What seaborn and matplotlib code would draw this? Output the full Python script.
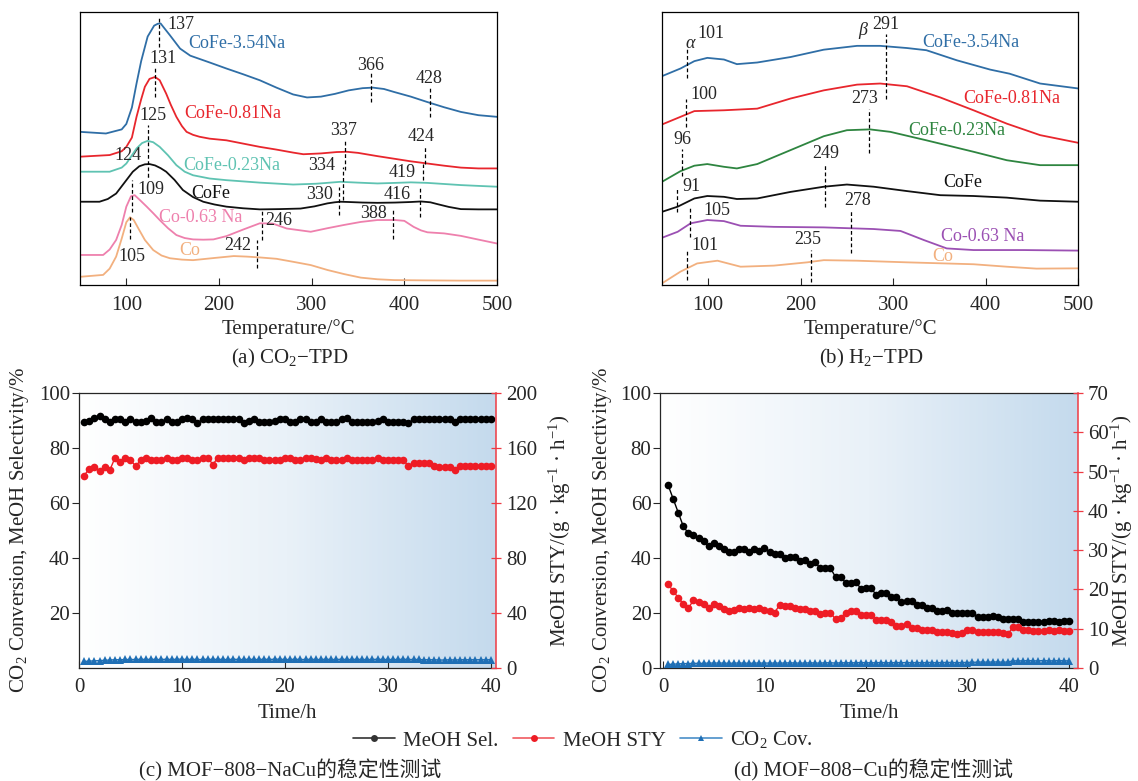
import numpy as np
import matplotlib
matplotlib.use("Agg")
import matplotlib.pyplot as plt
from matplotlib.colors import LinearSegmentedColormap
from matplotlib.lines import Line2D
import seaborn as sns

# ---------------- (a) CO2-TPD curves (T in degC, offset signal 0-100) ----------------
a_354_t = [50, 78, 95, 100, 106, 111, 116, 123, 130, 134, 137, 140, 147, 158, 169, 190, 208, 226, 244, 262,
           280, 295, 310, 325, 340, 355, 366, 378, 389, 407, 425, 443, 461, 480, 500]
a_354_y = [56.1, 55.5, 57, 59, 65, 73.8, 82, 91, 95, 95.7, 95.8, 94.5, 91.5, 86.6, 84, 81.5, 79.3, 77.2, 75, 72.3,
           69.8, 68.7, 69, 70, 71.3, 72.1, 72.3, 71.8, 70.7, 69, 67, 65.1, 63.4, 62.2, 61.6]
a_081_t = [50, 82, 95, 100, 106, 111, 116, 120, 125, 131, 136, 143, 148, 154, 160, 165, 172, 179, 190, 208,
           226, 244, 262, 280, 291, 310, 327, 338, 350, 371, 390, 407, 425, 443, 461, 480, 500]
a_081_y = [47, 47.6, 49, 50.6, 54, 61.6, 68, 72.6, 75.5, 76.2, 75, 70.1, 66, 61.6, 58.2, 56.1, 55, 54.3, 53.6, 53,
           51.8, 50.6, 49.6, 48.5, 47.9, 48.2, 48.7, 48.8, 48.4, 47.2, 46.2, 45.3, 44.5, 43.7, 43, 42.7, 42.7]
a_023_t = [50, 82, 95, 100, 106, 111, 117, 123, 129, 136, 145, 154, 163, 172, 190, 208, 244, 280, 305, 331,
           350, 371, 390, 407, 425, 443, 461, 480, 500]
a_023_y = [41.5, 41.5, 43, 44.5, 47.5, 50, 52, 52.8, 52.3, 50.6, 47.5, 43.9, 41.5, 40.2, 39, 38.4, 37.5, 36.8, 37.1, 37.8,
           37.5, 37.2, 37.4, 37.6, 37.4, 37, 36.6, 36.3, 36]
a_cofe_t = [50, 71, 80, 89, 98, 107, 114, 120, 125, 131, 137, 143, 152, 161, 172, 183, 195, 208, 226, 244,
            265, 288, 303, 317, 325, 331, 340, 355, 371, 390, 407, 418, 428, 436, 448, 461, 480, 500]
a_cofe_y = [30.5, 30.5, 31.5, 33.5, 37.5, 41.5, 43.5, 44.2, 44.3, 43.8, 42.8, 41.5, 38.5, 34.8, 32.2, 30.5, 29.5, 28.7, 28.1, 27.7,
            27.8, 28, 28.8, 29.9, 30.3, 30.5, 30.4, 30.2, 30.1, 30.2, 30.4, 30.6, 30.3, 29.6, 28.6, 27.8, 27.7, 27.7]
a_co063_t = [50, 75, 82, 89, 95, 100, 105, 109, 115, 122, 129, 136, 145, 154, 163, 172, 183, 194, 208, 226,
             244, 258, 273, 299, 317, 335, 353, 371, 390, 400, 410, 418, 425, 443, 461, 479, 500]
a_co063_y = [11, 11, 13, 16.5, 22, 28.7, 32.5, 32.9, 31, 28.7, 26.3, 23.8, 20.8, 18.3, 17.2, 16.7, 16.6, 16.7, 17.9, 20.3,
             22.6, 22.5, 20.7, 19.5, 20.8, 22, 23.1, 23.8, 23.8, 23.5, 21.3, 20, 19.3, 18.9, 18, 16.7, 15.2]
a_co_t = [50, 75, 82, 89, 95, 100, 104, 108, 114, 120, 129, 138, 147, 160, 172, 195, 216, 230, 244, 262,
          280, 299, 317, 335, 353, 371, 389, 420, 460, 500]
a_co_y = [3, 3.7, 6, 10.4, 17, 23, 24.8, 23.8, 20.1, 16.5, 12.8, 10.8, 9.8, 9.3, 9.1, 9.9, 10.6, 10.4, 10.1, 9.6,
          8.5, 7.3, 5.5, 4, 2.7, 2.1, 1.8, 1.7, 1.6, 1.6]

# ---------------- (b) H2-TPD curves ----------------
b_354_t = [50, 70, 85, 99, 117, 131, 153, 189, 225, 261, 286, 315, 336, 369, 405, 426, 459, 500]
b_354_y = [76.5, 79.3, 82, 83.2, 82.6, 80.9, 81.5, 83.5, 86.2, 87.6, 87.6, 86.8, 86, 82.3, 78.9, 77.4, 73.8, 72]
b_081_t = [50, 70, 85, 117, 153, 189, 225, 261, 286, 315, 351, 387, 423, 459, 500]
b_081_y = [58.8, 61.6, 63.7, 64, 64.6, 68.3, 71.3, 73.4, 73.8, 72.8, 68.7, 64, 59.1, 54.9, 52.1]
b_023_t = [50, 70, 85, 99, 117, 131, 153, 189, 225, 250, 275, 297, 336, 387, 423, 459, 500]
b_023_y = [37.8, 41.7, 43.7, 44.3, 43.3, 42.7, 44.3, 49.4, 54.5, 56.7, 57, 56.1, 53, 48.8, 45.7, 43.9, 43.9]
b_cofe_t = [50, 67, 85, 99, 117, 131, 153, 189, 225, 250, 279, 315, 351, 387, 423, 459, 500]
b_cofe_y = [26.8, 28.7, 31.7, 32.6, 32.3, 31.5, 31.7, 34.1, 36, 36.8, 36, 34.4, 32.9, 32.6, 32, 30.9, 30.5]
b_co063_t = [50, 67, 81, 99, 117, 135, 171, 225, 279, 308, 333, 358, 387, 441, 500]
b_co063_y = [17.3, 19.5, 22.6, 23.8, 23.4, 21.7, 21.3, 21.1, 20.5, 19.8, 16.5, 13.4, 12.8, 12.8, 12.6]
b_co_t = [50, 70, 88, 110, 135, 171, 207, 225, 261, 315, 387, 423, 455, 500]
b_co_y = [0.6, 4.9, 7.9, 8.9, 6.7, 7.1, 8.3, 9.1, 8.9, 8.3, 7.6, 6.7, 6, 6.1]

curve_names = ["CoFe-3.54Na", "CoFe-0.81Na", "CoFe-0.23Na", "CoFe", "Co-0.63 Na", "Co"]

# peak annotations: label, line x, line y0, line y1, text x, text y, align
a_marks = [("137", 135, 87, 98, 144, 95.5, "left"), ("131", 131, 69, 80, 140, 83, "center"),
           ("125", 123.5, 39.6, 58.5, 129, 62.2, "center"), ("124", 123.5, 39.6, 40, 102, 47.6, "center"),
           ("109", 106.5, 26.8, 38.4, 126, 34.8, "center"), ("105", 104.3, 17, 25, 105.5, 10.4, "center"),
           ("366", 364, 67, 78, 363.5, 80.5, "center"), ("428", 427.4, 61.6, 72.3, 426.7, 75.6, "center"),
           ("337", 336.5, 42, 53.3, 334, 56.7, "center"), ("424", 422.4, 44.5, 50.6, 418.4, 54.3, "center"),
           ("334", 334, 31.1, 43.3, 311, 43.7, "center"), ("419", 420.5, 38.4, 44.5, 397.8, 41.2, "center"),
           ("330", 329.6, 25.6, 36, 308.7, 33, "center"), ("416", 416.6, 25, 35.4, 392.4, 33.2, "center"),
           ("388", 388, 16.7, 27.4, 367, 26.2, "center"), ("246", 246, 16.5, 27.4, 264, 23.8, "center"),
           ("242", 241.5, 6.1, 16.5, 220, 14.4, "center")]
b_marks = [("101", 77.3, 76, 86.6, 103, 92, "center"), ("291", 292, 68, 92, 292, 95.5, "center"),
           ("100", 75.5, 58, 68, 95, 69.9, "center"), ("273", 274, 48.2, 64.6, 269, 68.3, "center"),
           ("96", 72, 39.9, 50, 72, 53.3, "center"), ("249", 226, 28.4, 44.5, 226.6, 48.2, "center"),
           ("91", 66.5, 26.8, 35.4, 82, 36, "center"), ("105", 80.2, 17.7, 28.7, 109, 27.4, "center"),
           ("278", 254, 11.6, 27.4, 261.5, 31.1, "center"), ("101", 77.3, 1.8, 12.6, 97, 14.6, "center"),
           ("235", 211.5, 1.2, 12.8, 208, 16.5, "center")]
a_name_pos = [(167, 88.4), (162, 62.8), (161, 43.9), (170, 33.5), (135, 24.8), (157, 12.6)]
b_name_pos = [(331, 89), (376, 68.3), (316.5, 56.7), (354, 37.4), (352, 17.7), (342, 10.4)]

# ---------------- (c)/(d) stability tests ----------------
hours = [0.5, 1.0, 1.5, 2.0, 2.5, 3.0, 3.5, 4.0, 4.5, 5.0, 5.5, 6.0, 6.5, 7.0, 7.5, 8.0, 8.5, 9.0, 9.5, 10.0,
         10.5, 11.0, 11.5, 12.0, 12.5, 13.0, 13.5, 14.0, 14.5, 15.0, 15.5, 16.0, 16.5, 17.0, 17.5, 18.0, 18.5, 19.0, 19.5, 20.0,
         20.5, 21.0, 21.5, 22.0, 22.5, 23.0, 23.5, 24.0, 24.5, 25.0, 25.5, 26.0, 26.5, 27.0, 27.5, 28.0, 28.5, 29.0, 29.5, 30.0,
         30.5, 31.0, 31.5, 32.0, 32.5, 33.0, 33.5, 34.0, 34.5, 35.0, 35.5, 36.0, 36.5, 37.0, 37.5, 38.0, 38.5, 39.0, 39.5, 40.0]

c_sel = [89.5, 90.0, 91.0, 91.5, 90.5, 89.5, 90.5, 90.5, 89.5, 90.5, 89.5, 89.5, 90.0, 91.0, 89.5, 89.5, 90.5, 89.5, 89.5, 90.5,
         91.0, 90.5, 89.0, 90.5, 90.5, 90.5, 90.5, 90.5, 90.5, 90.5, 90.5, 89.0, 90.0, 90.5, 89.5, 89.5, 89.5, 90.0, 90.5, 90.5,
         89.5, 89.5, 90.5, 90.5, 89.5, 89.5, 90.5, 89.5, 89.5, 89.5, 90.5, 91.0, 89.5, 89.5, 89.5, 89.5, 89.5, 90.0, 90.5, 89.5,
         89.5, 89.5, 89.5, 89.0, 90.5, 90.5, 90.5, 90.5, 90.5, 90.5, 90.5, 90.5, 89.5, 90.5, 90.5, 90.5, 90.5, 90.5, 90.5, 90.5]
c_sty = [140, 145, 146, 143, 146, 144, 153, 150, 153, 151, 147, 151, 153, 151, 151, 151, 153, 151, 151, 153,
         153, 151, 151, 153, 153, 148, 153, 153, 153, 153, 153, 151, 153, 153, 153, 151, 151, 151, 151, 153,
         153, 151, 151, 153, 153, 152, 151, 153, 151, 151, 151, 153, 151, 151, 151, 151, 151, 153, 151, 151,
         151, 151, 151, 147, 149, 149, 149, 149, 147, 146, 146, 146, 144, 147, 147, 147, 147, 147, 147, 147]
c_cov = [2.4, 2.5, 2.6, 2.7, 2.8, 2.9, 3.0, 3.0, 3.1, 3.1, 3.1, 3.2, 3.1, 3.2, 3.1, 3.1, 3.2, 3.1, 3.2, 3.2,
         3.1, 3.2, 3.1, 3.1, 3.2, 3.1, 3.2, 3.1, 3.1, 3.2, 3.1, 3.1, 3.2, 3.1, 3.1, 3.2, 3.1, 3.2, 3.2, 3.1,
         3.1, 3.2, 3.1, 3.1, 3.2, 3.1, 3.1, 3.2, 3.1, 3.1, 3.2, 3.1, 3.1, 3.2, 3.1, 3.1, 3.1, 3.2, 3.1, 3.1,
         3.1, 3.1, 3.2, 3.1, 3.1, 3.1, 3.0, 3.0, 3.0, 2.9, 2.9, 3.0, 2.9, 3.0, 3.0, 3.0, 3.0, 3.0, 3.0, 3.0]

d_sel = [66.5, 61.5, 56.5, 51.5, 49.0, 48.3, 47.4, 46.2, 44.2, 45.6, 44.2, 43.1, 42.1, 42.1, 43.1, 43.1, 42.1, 43.1, 42.4, 43.6,
         42.1, 41.3, 41.3, 39.9, 40.3, 40.3, 38.9, 39.2, 37.8, 38.4, 36.3, 36.3, 36.3, 33.1, 33.1, 31.0, 31.0, 31.4, 28.8, 29.2,
         29.0, 26.7, 27.3, 27.3, 25.7, 25.7, 23.9, 24.3, 24.3, 22.8, 22.8, 21.8, 22.0, 20.6, 20.6, 21.2, 20.0, 20.0, 20.0, 20.0,
         20.0, 18.7, 18.7, 18.7, 18.9, 18.7, 17.9, 17.9, 17.9, 17.9, 16.6, 16.8, 16.8, 16.8, 16.8, 17.0, 17.0, 16.8, 17.0, 17.1]
d_sty = [21.3, 19.6, 17.9, 16.3, 15.3, 17.2, 16.7, 16.4, 15.3, 16.4, 15.7, 15.0, 14.6, 14.8, 15.4, 15.0, 15.3, 15.0, 15.3, 14.8,
         14.6, 14.1, 16.1, 15.7, 15.7, 15.4, 15.0, 15.0, 14.6, 14.4, 13.8, 14.1, 14.1, 12.4, 12.7, 14.1, 14.4, 14.4, 13.4, 13.4,
         13.5, 12.3, 12.3, 12.3, 11.6, 10.8, 10.8, 11.1, 10.3, 10.3, 9.7, 9.7, 9.7, 9.2, 9.2, 9.1, 8.8, 8.6, 8.8, 9.8,
         9.7, 9.2, 9.2, 9.2, 9.1, 9.2, 9.0, 8.6, 10.5, 10.4, 9.7, 9.7, 9.5, 9.5, 9.5, 9.7, 9.5, 9.7, 9.5, 9.4]
d_cov = [1.3, 1.4, 1.5, 1.6, 1.6, 1.7, 1.7, 1.7, 1.8, 1.8, 1.8, 1.8, 1.7, 1.8, 1.8, 1.8, 1.7, 1.8, 1.8, 1.8,
         1.8, 1.8, 1.8, 1.8, 1.9, 1.8, 1.8, 1.8, 1.9, 1.8, 1.8, 1.9, 1.9, 1.8, 1.9, 1.9, 1.9, 1.9, 2.0, 1.9,
         1.9, 1.9, 2.0, 1.9, 1.9, 2.0, 1.9, 2.0, 1.9, 2.0, 1.9, 2.0, 2.0, 1.9, 2.0, 2.0, 2.0, 1.9, 2.0, 2.0,
         2.1, 2.1, 2.2, 2.1, 2.2, 2.2, 2.1, 2.2, 2.6, 2.6, 2.6, 2.7, 2.6, 2.6, 2.7, 2.6, 2.6, 2.7, 2.6, 2.6]

# ---------------- style ----------------
sns.set_style("ticks")
plt.rcParams["font.family"] = ["Liberation Serif", "Noto Sans CJK SC"]
plt.rcParams["mathtext.fontset"] = "custom"
plt.rcParams["mathtext.rm"] = "Liberation Serif"
plt.rcParams["mathtext.it"] = "Liberation Serif:italic"
plt.rcParams["axes.linewidth"] = 0.9
FS = 15
AFS = 13

a_colors = ["#2f6ea6", "#e8262d", "#5fc3b2", "#111111", "#ee80ad", "#f2b07f"]
b_colors = ["#2f6ea6", "#e8262d", "#2e8540", "#111111", "#9b50b3", "#f2b07f"]
RED_AX = "#ee3b44"

fig = plt.figure(figsize=(11.38, 7.81), dpi=100)
W, H = 1138.0, 781.0
ax_a = fig.add_axes([80 / W, 1 - 285 / H, 417 / W, 273 / H])
ax_b = fig.add_axes([662 / W, 1 - 285 / H, 416 / W, 273 / H])
ax_c = fig.add_axes([79 / W, 1 - 668 / H, 417 / W, 275 / H])
ax_d = fig.add_axes([660.5 / W, 1 - 668 / H, 417 / W, 275 / H])

def tpd_panel(ax, curves, colors, marks, name_pos):
    for (t, y), col in zip(curves, colors):
        sns.lineplot(x=t, y=y, ax=ax, color=col, lw=1.3, errorbar=None)
    for lab, lx, y0, y1, tx, ty, ha in marks:
        ax.plot([lx, lx], [y0, y1], color="black", lw=0.9, ls=(0, (3, 2)))
        ax.text(tx, ty, lab, fontsize=AFS, ha=ha, va="center")
    for name, (tx, ty), col in zip(curve_names, name_pos, colors):
        ax.text(tx, ty, name, fontsize=AFS, color=col, ha="left", va="center")
    ax.set_xlim(50, 500)
    ax.set_ylim(0, 100)
    ax.set_xticks([100, 200, 300, 400, 500])
    ax.set_yticks([])
    ax.tick_params(axis="x", direction="in", length=5, width=0.8, pad=8, labelsize=FS)
    for s in ax.spines.values():
        s.set_visible(True)
        s.set_color("black")
    ax.set_xlabel("Temperature/°C", fontsize=FS)
    ax.xaxis.set_label_coords(0.5, -0.125)
    ax.set_ylabel("")

tpd_panel(ax_a, [(a_354_t, a_354_y), (a_081_t, a_081_y), (a_023_t, a_023_y), (a_cofe_t, a_cofe_y),
                 (a_co063_t, a_co063_y), (a_co_t, a_co_y)], a_colors, a_marks, a_name_pos)
tpd_panel(ax_b, [(b_354_t, b_354_y), (b_081_t, b_081_y), (b_023_t, b_023_y), (b_cofe_t, b_cofe_y),
                 (b_co063_t, b_co063_y), (b_co_t, b_co_y)], b_colors, b_marks, b_name_pos)
ax_b.text(80.2, 88.4, "α", fontsize=AFS, style="italic", ha="center", va="center")
ax_b.text(267, 93.3, "β", fontsize=AFS, style="italic", ha="center", va="center")

bg = LinearSegmentedColormap.from_list("bg", ["#ffffff", "#e9f1f8", "#c4daed"])
grad = np.linspace(0, 1, 256).reshape(1, -1)

def stability_panel(ax, sel, sty, cov, xlim, sty_max, sty_ticks, left_ticks):
    ax.imshow(grad, cmap=bg, extent=[xlim[0], xlim[1], 0, 100], aspect="auto", zorder=0)
    sns.lineplot(x=hours, y=sel, ax=ax, color="black", lw=1.0, marker="o", markersize=5.5,
                 markeredgewidth=0, errorbar=None, zorder=3)
    sns.lineplot(x=hours, y=cov, ax=ax, color="#1f6fb5", lw=1.0, marker="^", markersize=6,
                 markeredgewidth=0, errorbar=None, zorder=3)
    ax.set_xlim(*xlim)
    ax.set_ylim(0, 100)
    ax.set_xticks([0, 10, 20, 30, 40])
    ax.set_yticks(left_ticks)
    ax.tick_params(axis="x", direction="in", length=5, width=0.8, pad=7, labelsize=FS)
    ax.tick_params(axis="y", direction="out", length=5, width=0.8, pad=1.5, labelsize=FS)
    ax.spines["right"].set_visible(False)
    ax.set_xlabel("Time/h", fontsize=FS)
    ax.xaxis.set_label_coords(0.5, -0.131)
    ax.set_ylabel("CO$_2$ Conversion, MeOH Selectivity/%", fontsize=FS)
    ax2 = ax.twinx()
    sns.lineplot(x=hours, y=sty, ax=ax2, color="#ee1c25", lw=1.0, marker="o", markersize=5.5,
                 markeredgewidth=0, errorbar=None, zorder=3)
    ax2.set_ylim(0, sty_max)
    ax2.set_yticks(sty_ticks)
    ax2.tick_params(axis="y", direction="inout", length=7, width=0.9, color=RED_AX, pad=4, labelsize=FS)
    for k in ["left", "top", "bottom"]:
        ax2.spines[k].set_visible(False)
    ax2.spines["right"].set_color(RED_AX)
    ax2.spines["right"].set_linewidth(1.1)
    ax2.set_ylabel("MeOH STY/(g · kg$^{-1}$ · h$^{-1}$)", fontsize=FS)
    return ax2

ax_c2 = stability_panel(ax_c, c_sel, c_sty, c_cov, (0, 40.5), 200, [0, 40, 80, 120, 160, 200],
                        [20, 40, 60, 80, 100])
ax_d2 = stability_panel(ax_d, d_sel, d_sty, d_cov, (-0.25, 40.85), 70, [0, 10, 20, 30, 40, 50, 60, 70],
                        [0, 20, 40, 60, 80, 100])
ax_c.yaxis.set_label_coords(-0.115, 0.5)
ax_c2.yaxis.set_label_coords(1.122, 0.5)
ax_d.yaxis.set_label_coords(-0.1115, 0.5)
ax_d2.yaxis.set_label_coords(1.076, 0.5)

# captions
fig.text(290 / W, 1 - 358 / H, "(a) CO$_2$−TPD", fontsize=FS, ha="center", va="center")
fig.text(871 / W, 1 - 358 / H, "(b) H$_2$−TPD", fontsize=FS, ha="center", va="center")
fig.text(290 / W, 1 - 770 / H, "(c) MOF−808−NaCu的稳定性测试", fontsize=FS, ha="center", va="center")
fig.text(874 / W, 1 - 770 / H, "(d) MOF−808−Cu的稳定性测试", fontsize=FS, ha="center", va="center")

handles = [Line2D([], [], color="#333333", lw=1.2, marker="o", markersize=5, markeredgewidth=0),
           Line2D([], [], color="#f05a60", lw=1.2, marker="o", markersize=5, markerfacecolor="#ee1c25",
                  markeredgewidth=0),
           Line2D([], [], color="#4a8fc8", lw=1.2, marker="^", markersize=5, markerfacecolor="#1f6fb5",
                  markeredgewidth=0)]
fig.legend(handles, ["MeOH Sel.", "MeOH STY", "CO$_2$ Cov."], loc="center", ncol=3,
           bbox_to_anchor=(583 / W, 1 - 740 / H), frameon=False, fontsize=FS,
           handlelength=2.0, handletextpad=0.4, columnspacing=0.7)

fig.savefig("out.png", dpi=100)
